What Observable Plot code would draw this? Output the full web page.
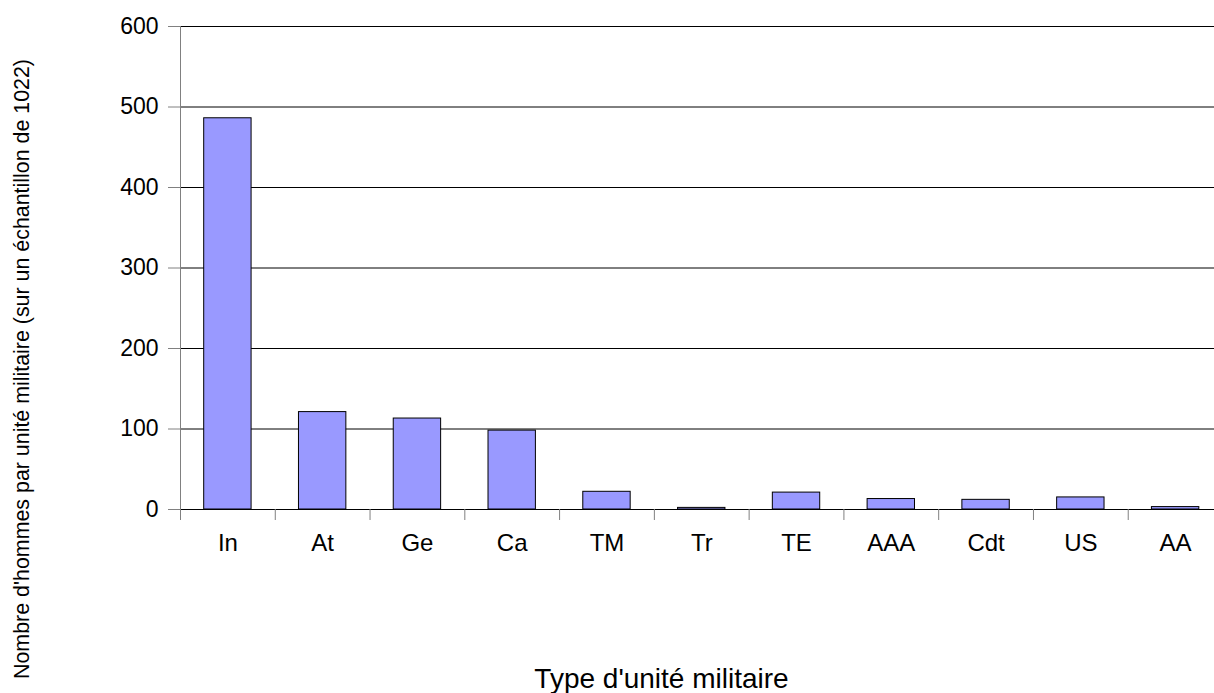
<!DOCTYPE html>
<html>
<head>
<meta charset="utf-8">
<script src="https://cdn.jsdelivr.net/npm/d3@7"></script>
<script src="https://cdn.jsdelivr.net/npm/@observablehq/plot@0.6"></script>
<style>
  html, body { margin: 0; padding: 0; background: white; overflow: hidden; }
</style>
</head>
<body>
<div id="chart"></div>
<script>
const categories = ["In", "At", "Ge", "Ca", "TM", "Tr", "TE", "AAA", "Cdt", "US", "AA"];
const values = [486, 121, 113, 98, 22, 2, 21, 13, 12, 15, 3];
const yTicks = [0, 100, 200, 300, 400, 500, 600];
const xTitle = "Type d'unité militaire";
const yTitle = "Nombre d'hommes par unité militaire (sur un échantillon de 1022)";

const data = categories.map((c, i) => ({cat: c, val: values[i]}));

const W = 1214, H = 693;
const mL = 180, mR = -8.5, mT = 26, mB = 184;
const step = (W - mR - mL) / categories.length;
const plotMidX = (mL + (W - mR)) / 2;
const plotMidY = (mT + (H - mB)) / 2;

const chart = Plot.plot({
  width: W,
  height: H,
  marginLeft: mL,
  marginRight: mR,
  marginTop: mT,
  marginBottom: mB,
  style: {fontFamily: "'Liberation Sans', Arial, sans-serif", background: "white", color: "black", overflow: "hidden"},
  x: {domain: categories, paddingInner: 0.5, paddingOuter: 0.25, round: false, axis: null},
  y: {domain: [0, 600], axis: null},
  marks: [
    Plot.gridY(yTicks.filter(d => d > 0), {stroke: "black", strokeOpacity: 1, strokeWidth: 1}),
    Plot.frame({anchor: "left", stroke: "#808080"}),
    Plot.axisY(yTicks, {tickSize: 12, tickPadding: 10, fontSize: 23, stroke: "#808080", label: null}),
    Plot.barY(data, {x: "cat", y: "val", fill: "#9999ff", stroke: "black", strokeWidth: 1}),
    Plot.ruleY([0], {stroke: "black"}),
    Plot.ruleX(categories, {x: d => d, y1: 0, y2: 0, dx: -step / 2, stroke: "#808080", insetBottom: -11}),
    Plot.axisX({tickSize: 0, tickPadding: 24, fontSize: 24, label: null}),
    Plot.text([xTitle], {frameAnchor: "bottom", dx: 661 - plotMidX, dy: 170, fontSize: 28, textAnchor: "middle", lineAnchor: "middle", fill: "black"}),
    Plot.text([yTitle], {frameAnchor: "left", dx: 22 - mL, dy: 368.5 - plotMidY, rotate: -90, fontSize: 21.4, textAnchor: "middle", lineAnchor: "middle", fill: "black"})
  ]
});
document.getElementById("chart").appendChild(chart);
</script>
</body>
</html>
